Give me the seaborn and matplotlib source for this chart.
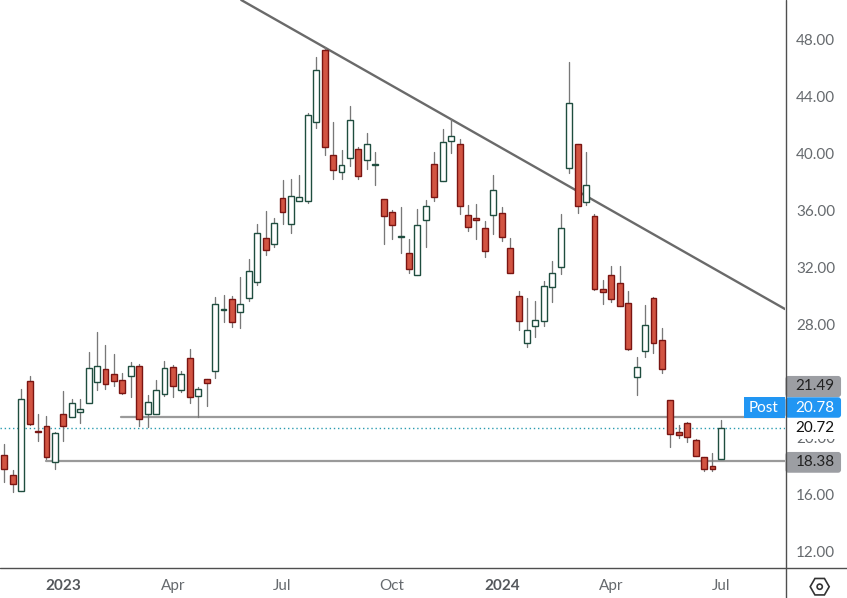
import numpy as np
import pandas as pd
import seaborn as sns
import matplotlib.pyplot as plt
from matplotlib.patches import Rectangle, FancyBboxPatch, RegularPolygon, Circle

# -----------------------
# Weekly candles
# -----------------------

opens = [
    18.79, 17.38, 16.26, 23.98, 20.47, 20.82, 18.30, 21.66, 21.45, 21.85,
    22.44, 23.91, 24.82, 24.47, 24.05, 24.33, 25.03, 21.66, 21.71, 23.07,
    24.96, 23.35, 25.59, 22.93, 24.12, 24.68, 28.96, 29.73, 28.82, 29.80,
    30.92, 34.01, 33.59, 36.82, 34.99, 36.61, 36.61, 42.15, 47.20, 39.84,
    38.64, 39.62, 40.26, 39.49, 39.18, 36.75, 35.84, 34.13, 32.96, 31.42,
    35.28, 39.21, 38.01, 40.82, 40.61, 35.63, 35.42, 34.71, 35.63, 35.77,
    33.31, 29.94, 26.64, 27.84, 28.19, 30.57, 31.98, 38.92, 40.61, 36.54,
    35.56, 30.43, 31.42, 30.85, 29.45, 24.26, 26.08, 29.80, 26.85, 22.64,
    20.45, 21.03, 19.84, 18.64, 18.01, 18.50,
]
closes = [
    17.80, 16.75, 22.72, 21.00, 20.45, 18.69, 20.33, 20.87, 22.44, 22.01,
    24.89, 25.03, 23.77, 23.98, 23.14, 25.03, 21.31, 22.50, 23.35, 24.89,
    23.63, 24.47, 22.86, 23.42, 23.84, 29.38, 29.03, 28.12, 29.38, 31.70,
    34.36, 33.17, 35.06, 35.84, 36.96, 36.89, 42.64, 45.80, 40.40, 38.78,
    39.18, 42.29, 38.36, 40.61, 39.20, 35.56, 34.93, 34.20, 31.84, 34.93,
    36.26, 36.89, 40.75, 41.17, 36.26, 34.78, 35.28, 33.10, 37.38, 34.08,
    31.56, 28.19, 27.56, 28.26, 30.64, 31.56, 34.71, 43.49, 36.26, 37.73,
    30.43, 30.22, 29.73, 29.29, 26.27, 24.96, 27.91, 26.64, 24.82, 20.26,
    20.19, 20.05, 18.71, 17.80, 17.80, 20.68,
]
highs = [
    19.58, 17.73, 23.44, 24.33, 21.69, 21.55, 20.40, 23.30, 22.74, 22.74,
    26.04, 27.44, 26.53, 25.90, 24.56, 25.34, 25.20, 23.00, 24.07, 25.41,
    25.13, 24.68, 26.25, 23.56, 24.12, 29.87, 30.04, 29.97, 31.28, 32.56,
    35.02, 35.93, 35.44, 38.11, 38.18, 38.46, 42.78, 46.71, 47.41, 42.15,
    40.21, 43.30, 40.40, 41.40, 40.07, 36.75, 35.98, 36.21, 33.94, 36.07,
    36.70, 40.07, 41.68, 42.36, 40.98, 36.33, 36.42, 35.21, 38.46, 36.19,
    34.01, 30.29, 29.80, 29.61, 30.99, 32.40, 35.70, 46.36, 40.61, 40.07,
    35.70, 31.07, 32.07, 32.07, 30.29, 25.66, 29.31, 29.87, 27.69, 22.64,
    20.91, 21.12, 19.91, 18.69, 18.95, 21.26,
]
lows = [
    16.94, 16.24, 16.26, 20.94, 19.82, 18.55, 17.85, 19.82, 21.45, 21.08,
    22.44, 23.37, 23.46, 23.65, 23.07, 22.86, 20.87, 20.80, 21.71, 22.93,
    22.90, 23.25, 22.48, 21.45, 22.27, 24.24, 28.17, 27.81, 27.74, 29.63,
    30.74, 32.84, 33.42, 35.02, 34.41, 36.61, 36.51, 41.78, 39.88, 38.20,
    38.20, 39.11, 38.20, 38.90, 37.78, 33.64, 33.99, 33.01, 31.60, 31.42,
    33.43, 36.66, 38.01, 40.02, 35.74, 34.55, 33.99, 32.73, 34.32, 33.85,
    31.56, 27.60, 26.41, 27.11, 27.88, 29.57, 31.53, 38.62, 35.81, 36.33,
    30.36, 29.43, 29.52, 29.29, 26.20, 23.04, 25.71, 25.99, 24.58, 19.39,
    20.02, 19.74, 18.71, 17.71, 17.71, 18.50,
]

# drawn levels and the falling trend line
trend_x = [28.1, 92.6]
trend_y = [50.74, 29.05]
upper_level = 21.49
lower_level = 18.38
upper_start = 13.84
lower_start = 4.95
last_price = 20.72

# 24.00 sits fully behind the 21.49 tag in the reference, so it is left out
y_ticks = [48, 44, 40, 36, 32, 28, 20, 16, 12]
x_ticks = [7, 20, 33, 46, 59, 72, 85]
x_labels = ["2023", "Apr", "Jul", "Oct", "2024", "Apr", "Jul"]

candles = pd.DataFrame({"i": range(len(opens)), "open": opens, "close": closes,
                        "high": highs, "low": lows})
candles["top"] = candles[["open", "close"]].max(axis=1)
candles["bottom"] = candles[["open", "close"]].min(axis=1)
candles["height"] = candles["top"] - candles["bottom"]
rising = candles[candles["close"] >= candles["open"]]
falling = candles[candles["close"] < candles["open"]]

wicks = candles.melt(id_vars="i", value_vars=["high", "low"], value_name="price")

# -----------------------
# Plot
# -----------------------

sns.set_theme(style="white")
plt.rcParams["font.family"] = ["Lato", "DejaVu Sans"]

fig = plt.figure(figsize=(8.47, 5.98), dpi=100)
ax = fig.add_axes([0, 30.5 / 598, 785 / 847, 567.5 / 598])

GREY_TEXT = "#666a6e"
LINE_GREY = "#6a6a6a"
LEVEL_GREY = "#9a9a9a"
FONT_SIZE = 11

sns.lineplot(x=trend_x, y=trend_y, color=LINE_GREY, linewidth=1.7, ax=ax, zorder=2)
sns.lineplot(x=[upper_start, 92.6], y=[upper_level, upper_level], color=LEVEL_GREY,
             linewidth=1.6, ax=ax, zorder=2)
sns.lineplot(x=[lower_start, 92.6], y=[lower_level, lower_level], color=LEVEL_GREY,
             linewidth=1.6, ax=ax, zorder=2)
ax.axhline(last_price, color="#2b9cb0", linewidth=1, linestyle=(0, (1, 2)), zorder=2)

sns.lineplot(data=wicks, x="i", y="price", units="i", estimator=None, color="#787878",
             linewidth=0.95, legend=False, ax=ax, zorder=2.5)

sns.barplot(x=rising["i"].to_numpy(), y=rising["height"].to_numpy(),
            bottom=rising["bottom"].to_numpy(), native_scale=True, width=0.7,
            color="white", saturation=1, edgecolor="#1f4d3f", linewidth=1.0,
            errorbar=None, ax=ax, zorder=3)
sns.barplot(x=falling["i"].to_numpy(), y=falling["height"].to_numpy(),
            bottom=falling["bottom"].to_numpy(), native_scale=True, width=0.7,
            color="#d25442", saturation=1, edgecolor="#7a1512", linewidth=1.0,
            errorbar=None, ax=ax, zorder=3)

ax.set_xlim(-0.51, 92.6)
ax.set_ylim(10.91, 50.74)
ax.set_xlabel("")
ax.set_ylabel("")
sns.despine(ax=ax, left=True, bottom=True, top=True, right=True)

ax.yaxis.tick_right()
ax.set_yticks(y_ticks)
ax.set_yticklabels([f"{v:.2f}" for v in y_ticks], fontsize=FONT_SIZE, color=GREY_TEXT)
ax.tick_params(axis="y", length=0, pad=8)
ax.set_xticks(x_ticks)
ax.set_xticklabels(x_labels, fontsize=FONT_SIZE, color=GREY_TEXT)
ax.tick_params(axis="x", length=0, pad=8)
for lab in ax.get_xticklabels():
    if lab.get_text() in ("2023", "2024"):
        lab.set_fontweight("bold")
        lab.set_color("#55585c")

# -----------------------
# Price scale furniture, in pixels of the picture
# -----------------------

over = fig.add_axes([0, 0, 1, 1])
over.set_xlim(0, 847)
over.set_ylim(598, 0)
over.axis("off")
over.patch.set_alpha(0)

over.plot([785.5, 785.5], [0, 598], color="#4f4f4f", linewidth=1.0)
over.plot([0, 847], [567.5, 567.5], color="#4f4f4f", linewidth=1.0)


def price_box(y0, y1, color, label, text_color, weight="normal"):
    over.add_patch(FancyBboxPatch((786.5, y0 + 1), 53.5, y1 - y0 - 2,
                                  boxstyle="round,pad=0,rounding_size=2", mutation_aspect=1,
                                  facecolor=color, edgecolor=color, linewidth=1.5))
    over.text(815, (y0 + y1) / 2, label, ha="center", va="center", fontsize=FONT_SIZE,
              color=text_color, fontweight=weight)


# white strip hides part of the 20.00 tick, like the reference
over.add_patch(Rectangle((786.5, 418), 60, 21, facecolor="white", edgecolor="none"))
price_box(376, 397, "#9c9ea3", "21.49", "#222222")
price_box(397.3, 417.7, "#2196f3", "20.78", "white")
over.add_patch(Rectangle((744, 397.3), 41, 20.4, facecolor="#2196f3", edgecolor="none"))
over.text(764, 407.5, "Post", ha="center", va="center", fontsize=FONT_SIZE, color="white")
over.text(815, 428.5, "20.72", ha="center", va="center", fontsize=FONT_SIZE, color="#111111")
price_box(452, 472.7, "#9c9ea3", "18.38", "#222222")

over.add_patch(RegularPolygon((819.7, 586.7), 6, radius=9.5, orientation=np.pi / 6,
                              facecolor="none", edgecolor="#333333", linewidth=1.2))
over.add_patch(Circle((819.7, 586.7), 2.6, facecolor="none", edgecolor="#333333", linewidth=1.2))

fig.savefig("out.png", dpi=100)
plt.close(fig)
